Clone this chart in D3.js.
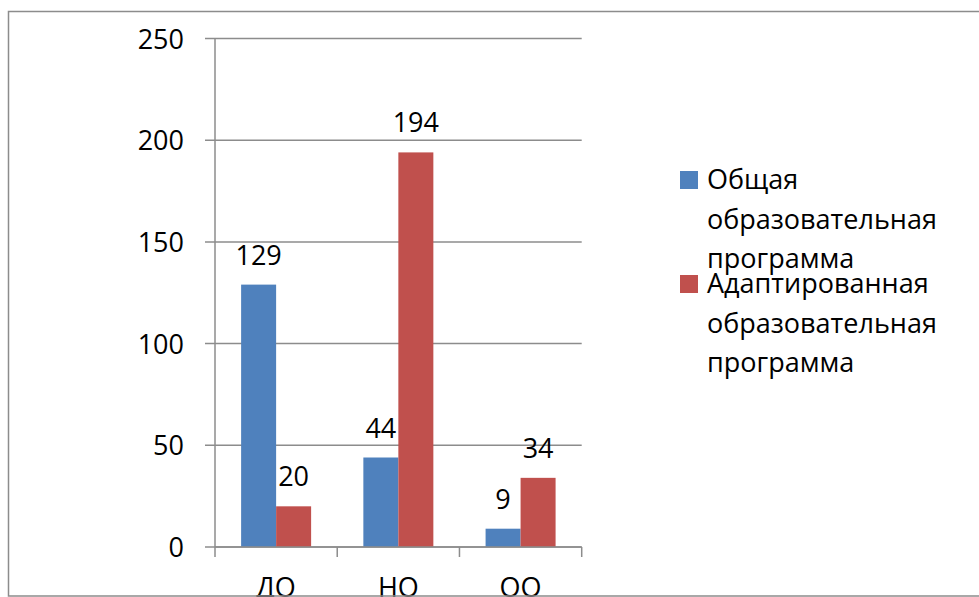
<!DOCTYPE html>
<html><head><meta charset="utf-8">
<script src="https://cdn.jsdelivr.net/npm/d3@7"></script>
<style>html,body{margin:0;padding:0;background:#fff;overflow:hidden}</style>
</head><body>
<svg id="c" width="979" height="597"></svg>
<script>
const categories = ["ДО", "НО", "ОО"];
const seriesNames = [["Общая", "образовательная", "программа"], ["Адаптированная", "образовательная", "программа"]];
const seriesGeneral = [129, 44, 9];
const seriesAdapted = [20, 194, 34];
const yTicks = [0, 50, 100, 150, 200, 250];
const colors = ["#4F81BD", "#C0504D"];

const font = "'Open Sans', sans-serif";
const fs = 27;
const svg = d3.select("#c");
const x0 = 215, x1 = 581.7, yTop = 38.5, yBot = 547;

const x = d3.scaleBand().domain(categories).range([x0, x1]);
const xs = d3.scaleBand().domain([0, 1]).range([0, x.bandwidth()]).paddingOuter(26/70*1.0).paddingInner(0);
// compute inner bar width ~35
const barW = 35;
const y = d3.scaleLinear().domain([0, 250]).range([yBot, yTop]);

// gridlines
svg.append("g").selectAll("line").data(yTicks).join("line")
  .attr("x1", x0 - 10).attr("x2", x1)
  .attr("y1", d => y(d)).attr("y2", d => y(d))
  .attr("stroke", "#8c8c8c").attr("stroke-width", 1.5);

// y labels
svg.append("g").selectAll("text").data(yTicks).join("text")
  .attr("x", 184).attr("y", d => y(d) + 10)
  .attr("text-anchor", "end").attr("font-family", font).attr("font-size", fs)
  .attr("fill", "#000").text(d => d);

// bars
const data = categories.map((c, i) => ({c, v: [seriesGeneral[i], seriesAdapted[i]]}));
const groups = svg.append("g").selectAll("g").data(data).join("g");
groups.selectAll("rect").data(d => d.v.map((v, k) => ({c: d.c, v, k}))).join("rect")
  .attr("x", d => x(d.c) + (x.bandwidth() - 2 * barW) / 2 + d.k * barW)
  .attr("width", barW)
  .attr("y", d => y(d.v)).attr("height", d => yBot - y(d.v))
  .attr("fill", d => colors[d.k]);
groups.selectAll("text").data(d => d.v.map((v, k) => ({c: d.c, v, k}))).join("text")
  .attr("x", d => x(d.c) + (x.bandwidth() - 2 * barW) / 2 + d.k * barW + barW / 2)
  .attr("y", d => y(d.v) - 20)
  .attr("text-anchor", "middle").attr("font-family", font).attr("font-size", fs)
  .text(d => d.v);

// axes
svg.append("line").attr("x1", x0).attr("x2", x0).attr("y1", yTop).attr("y2", yBot)
  .attr("stroke", "#8c8c8c").attr("stroke-width", 1.5);
svg.append("line").attr("x1", x0).attr("x2", x1).attr("y1", yBot).attr("y2", yBot)
  .attr("stroke", "#8c8c8c").attr("stroke-width", 1.5);
const xt = categories.map(c => x(c)).concat([x1]);
svg.append("g").selectAll("line").data(xt).join("line")
  .attr("x1", d => d).attr("x2", d => d).attr("y1", yBot).attr("y2", yBot + 10)
  .attr("stroke", "#8c8c8c").attr("stroke-width", 1.5);
svg.append("g").selectAll("text").data(categories).join("text")
  .attr("x", d => x(d) + x.bandwidth() / 2).attr("y", 597)
  .attr("text-anchor", "middle").attr("font-family", font).attr("font-size", fs)
  .text(d => d);

// legend
const leg = svg.append("g");
const legY = [171, 275];
seriesNames.forEach((lines, k) => {
  leg.append("rect").attr("x", 680).attr("y", legY[k]).attr("width", 18).attr("height", 18).attr("fill", colors[k]);
  lines.forEach((t, j) => {
    leg.append("text").attr("x", 707).attr("y", legY[k] + 18 + j * 39.5)
      .attr("font-family", font).attr("font-size", fs).text(t);
  });
});

// border
svg.append("path").attr("d", "M990,11.5 H8.5 V596 H990").attr("fill", "none")
  .attr("stroke", "#8c8c8c").attr("stroke-width", 1.5);
</script>
</body></html>
